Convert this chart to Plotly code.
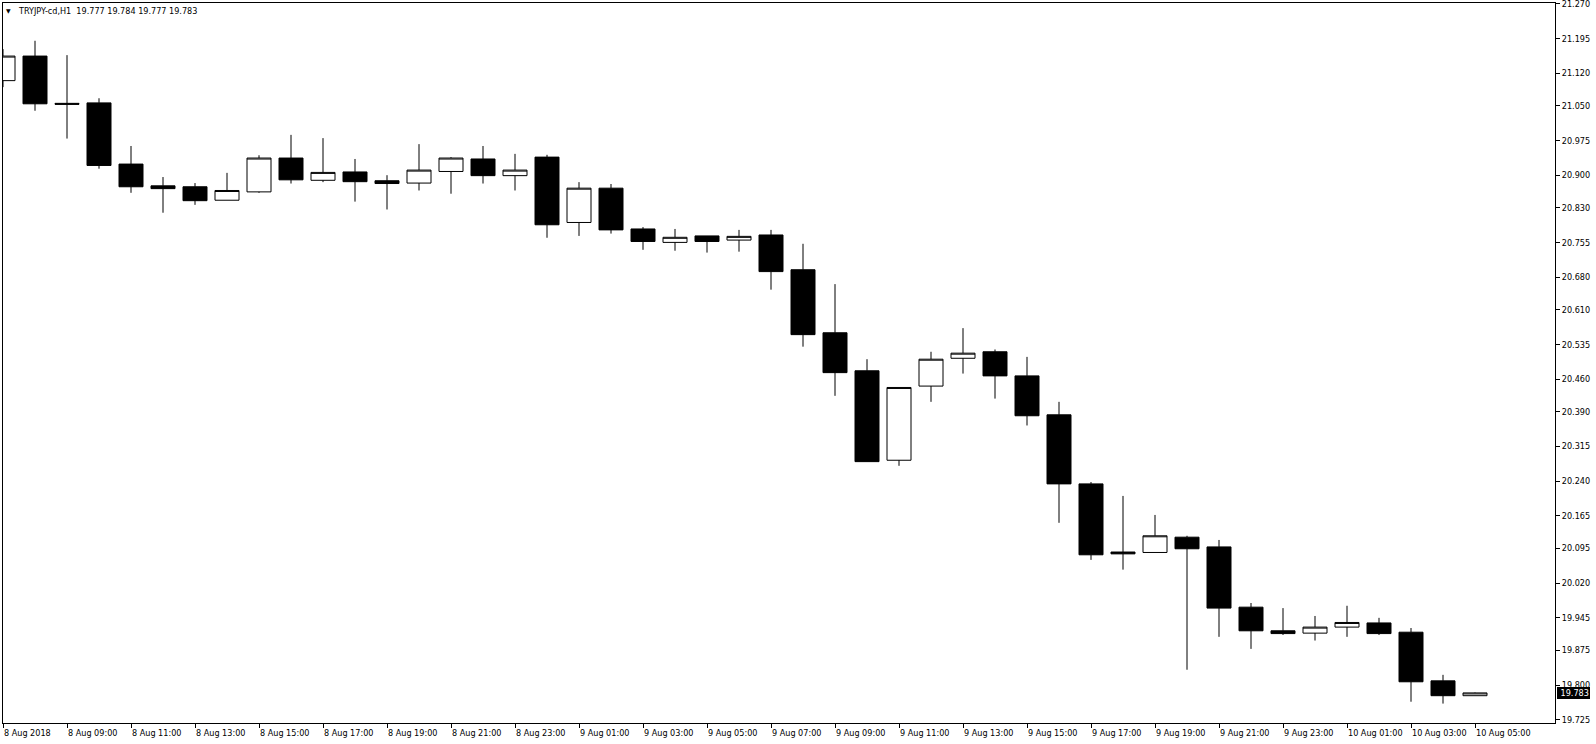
import pandas as pd
import plotly.graph_objects as go

# ---- data -------------------------------------------------------------
bar_times = pd.date_range("2018-08-08 07:00", periods=47, freq="h")

opens = [21.104, 21.157, 21.055, 21.056, 20.924, 20.877, 20.875, 20.846, 20.864, 20.937,
         20.889, 20.907, 20.888, 20.883, 20.908, 20.935, 20.899, 20.939, 20.798, 20.872,
         20.784, 20.755, 20.769, 20.760, 20.771, 20.696, 20.560, 20.478, 20.285, 20.445,
         20.505, 20.519, 20.467, 20.383, 20.234, 20.087, 20.086, 20.119, 20.098, 19.968,
         19.917, 19.912, 19.925, 19.934, 19.914, 19.809, 19.777]
highs = [21.172, 21.190, 21.159, 21.066, 20.963, 20.896, 20.883, 20.905, 20.943, 20.987,
         20.980, 20.935, 20.900, 20.967, 20.939, 20.963, 20.946, 20.944, 20.885, 20.881,
         20.788, 20.784, 20.769, 20.782, 20.782, 20.752, 20.665, 20.503, 20.442, 20.519,
         20.570, 20.524, 20.508, 20.411, 20.238, 20.208, 20.167, 20.122, 20.113, 19.977,
         19.966, 19.949, 19.971, 19.945, 19.923, 19.822, 19.784]
lows = [21.090, 21.039, 20.979, 20.914, 20.862, 20.819, 20.836, 20.846, 20.862, 20.882,
        20.885, 20.843, 20.826, 20.867, 20.860, 20.882, 20.867, 20.765, 20.769, 20.774,
        20.739, 20.737, 20.733, 20.735, 20.653, 20.530, 20.424, 20.282, 20.273, 20.411,
        20.472, 20.418, 20.360, 20.150, 20.070, 20.049, 20.086, 19.833, 19.904, 19.878,
        19.908, 19.896, 19.904, 19.908, 19.764, 19.760, 19.777]
closes = [21.157, 21.054, 21.053, 20.921, 20.875, 20.871, 20.845, 20.867, 20.937, 20.890,
          20.906, 20.886, 20.882, 20.911, 20.937, 20.899, 20.911, 20.793, 20.872, 20.782,
          20.757, 20.766, 20.757, 20.768, 20.692, 20.556, 20.474, 20.282, 20.442, 20.503,
          20.516, 20.467, 20.381, 20.234, 20.081, 20.083, 20.122, 20.094, 19.966, 19.917,
          19.911, 19.925, 19.935, 19.911, 19.807, 19.777, 19.783]

x_tick_labels = ["8 Aug 2018", "8 Aug 09:00", "8 Aug 11:00", "8 Aug 13:00", "8 Aug 15:00",
                 "8 Aug 17:00", "8 Aug 19:00", "8 Aug 21:00", "8 Aug 23:00",
                 "9 Aug 01:00", "9 Aug 03:00", "9 Aug 05:00", "9 Aug 07:00", "9 Aug 09:00",
                 "9 Aug 11:00", "9 Aug 13:00", "9 Aug 15:00", "9 Aug 17:00", "9 Aug 19:00",
                 "9 Aug 21:00", "9 Aug 23:00", "10 Aug 01:00", "10 Aug 03:00", "10 Aug 05:00"]
x_tick_times = list(bar_times[::2])

y_tick_labels = ["21.270", "21.195", "21.120", "21.050", "20.975", "20.900", "20.830",
                 "20.755", "20.680", "20.610", "20.535", "20.460", "20.390", "20.315",
                 "20.240", "20.165", "20.095", "20.020", "19.945", "19.875", "19.800",
                 "19.725"]

symbol_text = "TRYJPY-cd,H1"
last_price_label = "19.783"

# ---- figure -----------------------------------------------------------
FONT = "DejaVu Sans Condensed, Liberation Sans, sans-serif"
W, H = 1596, 744
ML, MR, MT, MB = 3, 41, 3, 21
PW, PH = W - ML - MR, H - MT - MB

fig = go.Figure()
fig.add_trace(go.Candlestick(
    x=bar_times, open=opens, high=highs, low=lows, close=closes,
    increasing=dict(line=dict(color="black", width=1), fillcolor="white"),
    decreasing=dict(line=dict(color="black", width=1), fillcolor="black"),
    whiskerwidth=0, hoverinfo="x+y", showlegend=False,
))

x_end = bar_times[0] + pd.Timedelta(minutes=int(48.5 * 60))

fig.update_layout(
    width=W, height=H,
    margin=dict(l=ML, r=MR, t=MT, b=MB, pad=0, autoexpand=False),
    paper_bgcolor="white", plot_bgcolor="white",
    showlegend=False, boxgap=0.25, boxgroupgap=0,
    font=dict(family=FONT, size=9, color="black"),
    xaxis=dict(
        type="date", range=[bar_times[0], x_end],
        rangeslider=dict(visible=False),
        showgrid=False, zeroline=False, automargin=False,
        showline=True, mirror=True, linecolor="black", linewidth=1,
        ticks="outside", ticklen=4, tickcolor="black", tickwidth=1,
        tickvals=x_tick_times, showticklabels=False,
    ),
    yaxis=dict(
        side="right", range=[19.7181, 21.2715],
        showgrid=False, zeroline=False, automargin=False,
        showline=True, mirror=True, linecolor="black", linewidth=1,
        ticks="outside", ticklen=4, tickcolor="black", tickwidth=1,
        tickmode="array",
        tickvals=[float(v) for v in y_tick_labels], ticktext=y_tick_labels,
        tickfont=dict(family=FONT, size=9, color="black"),
        ticklabeloverflow="allow",
    ),
)

annotations = []
for t, lab in zip(x_tick_times, x_tick_labels):
    annotations.append(dict(
        x=t, xref="x", y=0, yref="paper", text=lab, showarrow=False,
        xanchor="left", yanchor="middle", xshift=-1, yshift=-10,
        font=dict(family=FONT, size=9, color="black"),
    ))

# title line
annotations.append(dict(
    x=(8.5 - ML) / PW, xref="paper", y=1 - (10.5 - MT) / PH, yref="paper",
    text="▼", showarrow=False, xanchor="center", yanchor="middle",
    font=dict(family="DejaVu Sans", size=6, color="black"),
))
last_vals = f"{opens[-1]:.3f} {highs[-1]:.3f} {lows[-1]:.3f} {closes[-1]:.3f}"
annotations.append(dict(
    x=(18 - ML) / PW, xref="paper", y=1 - (11 - MT) / PH, yref="paper",
    text=symbol_text + "\u00a0\u00a0" + last_vals, showarrow=False,
    xanchor="left", yanchor="middle", xshift=-2,
    font=dict(family=FONT, size=9, color="black"),
))

# current price marker on the price scale
annotations.append(dict(
    x=1, xref="paper", y=float(last_price_label), yref="y",
    text="\u00a0" + last_price_label, showarrow=False, xanchor="left", yanchor="middle",
    xshift=2, bgcolor="black", borderpad=0, borderwidth=1, bordercolor="black",
    font=dict(family=FONT, size=9, color="white"),
))

fig.update_layout(annotations=annotations)

fig.write_html(
    "out.html",
    config={"displayModeBar": False},
    post_script="document.body.style.margin='0';document.body.style.overflow='hidden';",
)
